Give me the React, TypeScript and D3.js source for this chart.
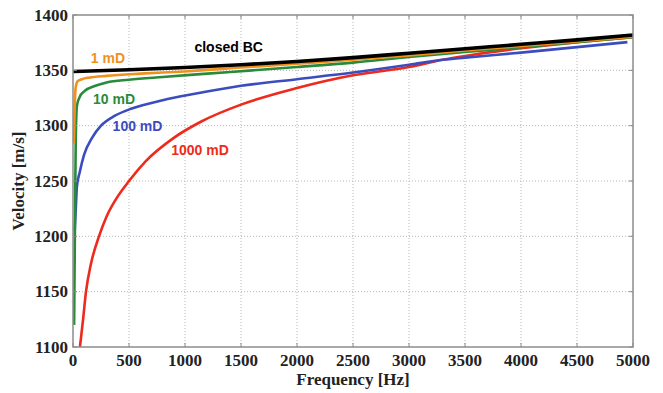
import * as d3 from 'd3';
import { useEffect, useRef } from 'react';

const xTicks = [0, 500, 1000, 1500, 2000, 2500, 3000, 3500, 4000, 4500, 5000];
const yTicks = [1100, 1150, 1200, 1250, 1300, 1350, 1400];

const closedFreq = [0, 500, 1000, 1500, 2000, 2500, 3000, 3500, 4000, 4500, 5000];
const closedVel = [1349, 1350.5, 1352.5, 1355, 1358, 1361.5, 1365.5, 1369.5, 1373.5, 1377.5, 1382];

const oneFreq = [8, 12, 18, 25, 40, 80, 150, 300, 600, 1000, 1500, 2000, 2500, 3000, 3500, 4000, 4500, 5000];
const oneVel = [1284, 1305, 1325, 1335, 1340, 1342, 1343.5, 1345, 1347, 1349, 1352.5, 1356, 1359.5, 1363.5, 1368, 1372, 1376, 1380.5];

const tenFreq = [10, 15, 20, 25, 35, 60, 100, 200, 300, 500, 800, 1200, 1600, 2000, 2500, 3000, 3500, 4000, 4500, 5000];
const tenVel = [1120, 1180, 1240, 1290, 1318, 1326, 1331, 1336, 1339, 1341.5, 1344, 1347, 1350, 1353, 1357, 1362, 1366.5, 1371, 1375.5, 1380];

const hundredFreq = [15, 25, 35, 60, 100, 170, 250, 375, 525, 800, 1100, 1500, 2000, 2500, 3000, 3300, 3500, 4000, 4500, 4950];
const hundredVel = [1205, 1225, 1245, 1258, 1274, 1289, 1300, 1309, 1315.5, 1323, 1329, 1336, 1342, 1348, 1355, 1359.5, 1361.5, 1366, 1371, 1375.5];

const thousandFreq = [62, 90, 116, 160, 232, 300, 380, 500, 650, 900, 1150, 1500, 2000, 2500, 3000, 3300, 3500, 4000, 4500, 5000];
const thousandVel = [1100, 1125, 1150, 1175, 1200, 1218, 1233, 1250, 1268, 1289, 1304, 1319, 1334, 1345.5, 1353, 1359.5, 1363, 1370, 1375.5, 1380];

const series = [
  { name: '1000 mD', freq: thousandFreq, vel: thousandVel, color: '#ee2a1c', width: 2.6 },
  { name: '100 mD', freq: hundredFreq, vel: hundredVel, color: '#3b4cbf', width: 2.6 },
  { name: '10 mD', freq: tenFreq, vel: tenVel, color: '#2a8a3a', width: 2.6 },
  { name: '1 mD', freq: oneFreq, vel: oneVel, color: '#f0901e', width: 2.6 },
  { name: 'closed BC', freq: closedFreq, vel: closedVel, color: '#000000', width: 3.6 },
];

// label anchor points (freq, velocity) for the in-plot annotations
const labels = [
  { text: 'closed BC', f: 1390, v: 1367, color: '#000000' },
  { text: '1 mD', f: 312, v: 1356.5, color: '#f0901e' },
  { text: '10 mD', f: 366, v: 1319.5, color: '#2a8a3a' },
  { text: '100 mD', f: 576, v: 1295, color: '#3b4cbf' },
  { text: '1000 mD', f: 1134, v: 1273.5, color: '#ee2a1c' },
];

export default function App() {
  const ref = useRef<SVGSVGElement | null>(null);

  useEffect(() => {
    const svg = d3.select(ref.current);
    svg.selectAll('*').remove();
    const width = 663;
    const height = 393;
    const margin = { left: 73, right: 30, top: 15, bottom: 46 };
    const x = d3.scaleLinear().domain([0, 5000]).range([margin.left, width - margin.right]);
    const y = d3.scaleLinear().domain([1100, 1400]).range([height - margin.bottom, margin.top]);
    const serif = '"Liberation Serif", "Times New Roman", serif';
    const sans = '"Liberation Sans", Arial, sans-serif';

    svg.attr('viewBox', `0 0 ${width} ${height}`);
    svg.append('rect').attr('width', width).attr('height', height).attr('fill', '#ffffff');

    const grid = svg.append('g');
    xTicks.slice(1, -1).forEach((t) => {
      grid
        .append('line')
        .attr('x1', x(t))
        .attr('x2', x(t))
        .attr('y1', y(1100))
        .attr('y2', y(1400))
        .attr('stroke', '#b4b4b4')
        .attr('stroke-width', 1)
        .attr('stroke-dasharray', '1,2');
    });
    yTicks.slice(1, -1).forEach((t) => {
      grid
        .append('line')
        .attr('x1', x(0))
        .attr('x2', x(5000))
        .attr('y1', y(t))
        .attr('y2', y(t))
        .attr('stroke', '#b4b4b4')
        .attr('stroke-width', 1)
        .attr('stroke-dasharray', '1,2');
    });

    const clip = svg.append('clipPath').attr('id', 'plot-clip');
    clip
      .append('rect')
      .attr('x', x(0))
      .attr('y', y(1400))
      .attr('width', x(5000) - x(0))
      .attr('height', y(1100) - y(1400));

    const line = d3
      .line<[number, number]>()
      .x((d) => x(d[0]))
      .y((d) => y(d[1]))
      .curve(d3.curveMonotoneX);

    const lines = svg.append('g').attr('clip-path', 'url(#plot-clip)');
    series.forEach((s) => {
      const pts = s.freq.map((f, i) => [f, s.vel[i]] as [number, number]);
      lines
        .append('path')
        .attr('d', line(pts) ?? '')
        .attr('fill', 'none')
        .attr('stroke', s.color)
        .attr('stroke-width', s.width)
        .attr('stroke-linejoin', 'round');
    });

    // frame
    svg
      .append('rect')
      .attr('x', x(0))
      .attr('y', y(1400))
      .attr('width', x(5000) - x(0))
      .attr('height', y(1100) - y(1400))
      .attr('fill', 'none')
      .attr('stroke', '#8c8c8c')
      .attr('stroke-width', 1.5);

    const ticks = svg.append('g').attr('stroke', '#8c8c8c').attr('stroke-width', 1);
    xTicks.forEach((t) => {
      ticks.append('line').attr('x1', x(t)).attr('x2', x(t)).attr('y1', y(1100)).attr('y2', y(1100) - 4);
      ticks.append('line').attr('x1', x(t)).attr('x2', x(t)).attr('y1', y(1400)).attr('y2', y(1400) + 4);
    });
    yTicks.forEach((t) => {
      ticks.append('line').attr('x1', x(0)).attr('x2', x(0) + 4).attr('y1', y(t)).attr('y2', y(t));
      ticks.append('line').attr('x1', x(5000)).attr('x2', x(5000) - 4).attr('y1', y(t)).attr('y2', y(t));
    });

    svg
      .append('g')
      .selectAll('text')
      .data(xTicks)
      .join('text')
      .attr('x', (d) => x(d))
      .attr('y', y(1100) + 19)
      .attr('text-anchor', 'middle')
      .attr('font-family', serif)
      .attr('font-weight', 'bold')
      .attr('font-size', 17)
      .attr('fill', '#222')
      .text((d) => d);

    svg
      .append('g')
      .selectAll('text')
      .data(yTicks)
      .join('text')
      .attr('x', x(0) - 5)
      .attr('y', (d) => y(d) + 5.5)
      .attr('text-anchor', 'end')
      .attr('font-family', serif)
      .attr('font-weight', 'bold')
      .attr('font-size', 17)
      .attr('fill', '#222')
      .text((d) => d);

    svg
      .append('text')
      .attr('x', (x(0) + x(5000)) / 2)
      .attr('y', height - 8)
      .attr('text-anchor', 'middle')
      .attr('font-family', serif)
      .attr('font-weight', 'bold')
      .attr('font-size', 17)
      .attr('fill', '#222')
      .text('Frequency [Hz]');

    svg
      .append('text')
      .attr('transform', `translate(24,${(y(1100) + y(1400)) / 2}) rotate(-90)`)
      .attr('text-anchor', 'middle')
      .attr('font-family', serif)
      .attr('font-weight', 'bold')
      .attr('font-size', 17)
      .attr('fill', '#222')
      .text('Velocity [m/s]');

    svg
      .append('g')
      .selectAll('text')
      .data(labels)
      .join('text')
      .attr('x', (d) => x(d.f))
      .attr('y', (d) => y(d.v))
      .attr('text-anchor', 'middle')
      .attr('font-family', sans)
      .attr('font-weight', 'bold')
      .attr('font-size', 14)
      .attr('fill', (d) => d.color)
      .text((d) => d.text);
  }, []);

  return (
    <svg
      ref={ref}
      width={663}
      height={393}
      style={{ position: 'absolute', left: 0, top: 0, display: 'block' }}
    />
  );
}
